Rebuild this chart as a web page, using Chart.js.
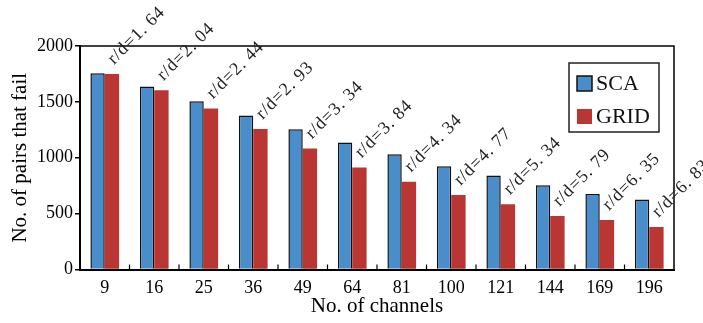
<!DOCTYPE html>
<html>
<head>
<meta charset="utf-8">
<script src="https://cdn.jsdelivr.net/npm/chart.js@4.4.1/dist/chart.umd.min.js"></script>
<style>
  html, body { margin: 0; padding: 0; background: #fff; }
  #wrap { width: 703px; height: 323px; }
</style>
</head>
<body>
<div id="wrap"><canvas id="c" width="703" height="323"></canvas></div>
<script>
// Number of channels on the x axis
const channels = ['9', '16', '25', '36', '49', '64', '81', '100', '121', '144', '169', '196'];
// Failing pairs per channel count
const scaFailures  = [1756, 1637, 1506, 1378, 1256, 1137, 1032, 925, 842, 755, 675, 627];
const gridFailures = [1750, 1604, 1440, 1258, 1083, 913, 785, 666, 583, 478, 442, 380];
// r/d ratio annotated above each group
const ratioLabels = ['r/d=1. 64', 'r/d=2. 04', 'r/d=2. 44', 'r/d=2. 93', 'r/d=3. 34', 'r/d=3. 84',
                     'r/d=4. 34', 'r/d=4. 77', 'r/d=5. 34', 'r/d=5. 79', 'r/d=6. 35', 'r/d=6. 83'];
const yTickValues = [0, 500, 1000, 1500, 2000];

const SERIF = '"Liberation Serif", "Times New Roman", serif';
const BLUE = '#4a8dcb';
const RED = '#b93633';

// Closed frame around the plot plus inward ticks between categories
const framePlugin = {
  id: 'frame',
  afterDatasetsDraw(chart) {
    const { ctx, chartArea: a, scales: { x } } = chart;
    ctx.save();
    ctx.strokeStyle = '#000';
    ctx.lineWidth = 1.5;
    ctx.beginPath();
    ctx.moveTo(a.left, a.top);
    ctx.lineTo(a.right, a.top);
    ctx.lineTo(a.right, a.bottom);
    ctx.stroke();
    ctx.lineWidth = 1.2;
    for (let i = 1; i < channels.length; i++) {
      const px = (x.getPixelForTick(i - 1) + x.getPixelForTick(i)) / 2;
      ctx.beginPath();
      ctx.moveTo(px, a.bottom);
      ctx.lineTo(px, a.bottom - 5);
      ctx.stroke();
    }
    ctx.restore();
  }
};

// Diagonal r/d annotations rising from just above each GRID bar
const ratioPlugin = {
  id: 'ratios',
  afterDatasetsDraw(chart) {
    const { ctx } = chart;
    const bars = chart.getDatasetMeta(1).data;
    ctx.save();
    ctx.fillStyle = '#222';
    ctx.font = '18px ' + SERIF;
    if ('letterSpacing' in ctx) ctx.letterSpacing = '0.8px';
    ctx.textAlign = 'left';
    ctx.textBaseline = 'alphabetic';
    bars.forEach((bar, i) => {
      const p = bar.getProps(['x', 'y'], true);
      ctx.save();
      ctx.translate(p.x + 2, p.y - 9);
      ctx.rotate(-Math.PI / 4);
      ctx.fillText(ratioLabels[i], 0, 0);
      ctx.restore();
    });
    if ('letterSpacing' in ctx) ctx.letterSpacing = '0px';
    ctx.restore();
  }
};

// Boxed legend in the upper right of the plot
const legendBoxPlugin = {
  id: 'legendBox',
  afterDraw(chart) {
    const { ctx, chartArea: a } = chart;
    const w = 90, h = 69;
    const bx = a.right - 15 - w, by = a.top + 17;
    ctx.save();
    if ('letterSpacing' in ctx) ctx.letterSpacing = '0px';
    ctx.fillStyle = '#fff';
    ctx.fillRect(bx, by, w, h);
    ctx.strokeStyle = '#222';
    ctx.lineWidth = 1.5;
    ctx.strokeRect(bx, by, w, h);
    ctx.font = '22px ' + SERIF;
    ctx.textBaseline = 'middle';
    ctx.textAlign = 'left';
    chart.data.datasets.forEach((ds, i) => {
      const cy = by + 20 + i * 33;
      ctx.fillStyle = ds.backgroundColor;
      ctx.fillRect(bx + 8, cy - 7, 15, 15);
      if (ds.borderWidth) {
        ctx.strokeStyle = '#111';
        ctx.lineWidth = 1.5;
        ctx.strokeRect(bx + 8, cy - 7, 15, 15);
      }
      ctx.fillStyle = '#111';
      ctx.fillText(ds.label, bx + 27, cy + 1);
    });
    ctx.restore();
  }
};

new Chart(document.getElementById('c'), {
  type: 'bar',
  data: {
    labels: channels,
    datasets: [
      { label: 'SCA', data: scaFailures, backgroundColor: BLUE, borderColor: '#111',
        borderWidth: 1.5, borderSkipped: 'bottom' },
      { label: 'GRID', data: gridFailures, backgroundColor: RED, borderWidth: 0 }
    ]
  },
  options: {
    responsive: false,
    animation: false,
    events: [],
    datasets: { bar: { categoryPercentage: 0.58, barPercentage: 1.0 } },
    layout: { padding: { left: 0, right: 29, top: 46, bottom: 0 } },
    plugins: { legend: { display: false }, tooltip: { enabled: false } },
    scales: {
      x: {
        grid: { display: false },
        border: { display: true, color: '#000', width: 2 },
        ticks: { color: '#000', font: { family: SERIF, size: 18 }, padding: 0, maxRotation: 0 },
        title: { display: true, text: 'No. of channels', color: '#000',
                 font: { family: SERIF, size: 21 }, padding: { top: 0 } },
        afterFit(s) { s.height = 53.5; }
      },
      y: {
        min: 0, max: 2000,
        afterBuildTicks(s) { s.ticks = yTickValues.map(v => ({ value: v })); },
        grid: { display: true, drawOnChartArea: false, drawTicks: true, tickLength: 5,
                color: '#000', lineWidth: 1.5 },
        border: { display: true, color: '#000', width: 2 },
        ticks: { color: '#000', font: { family: SERIF, size: 18 }, padding: 2,
                 callback: v => String(v) },
        title: { display: true, text: 'No. of pairs that fail', color: '#000',
                 font: { family: SERIF, size: 21 }, padding: { top: 8, bottom: 0 } },
        afterFit(s) { s.width = 80; }
      }
    }
  },
  plugins: [framePlugin, ratioPlugin, legendBoxPlugin]
});
</script>
</body>
</html>
